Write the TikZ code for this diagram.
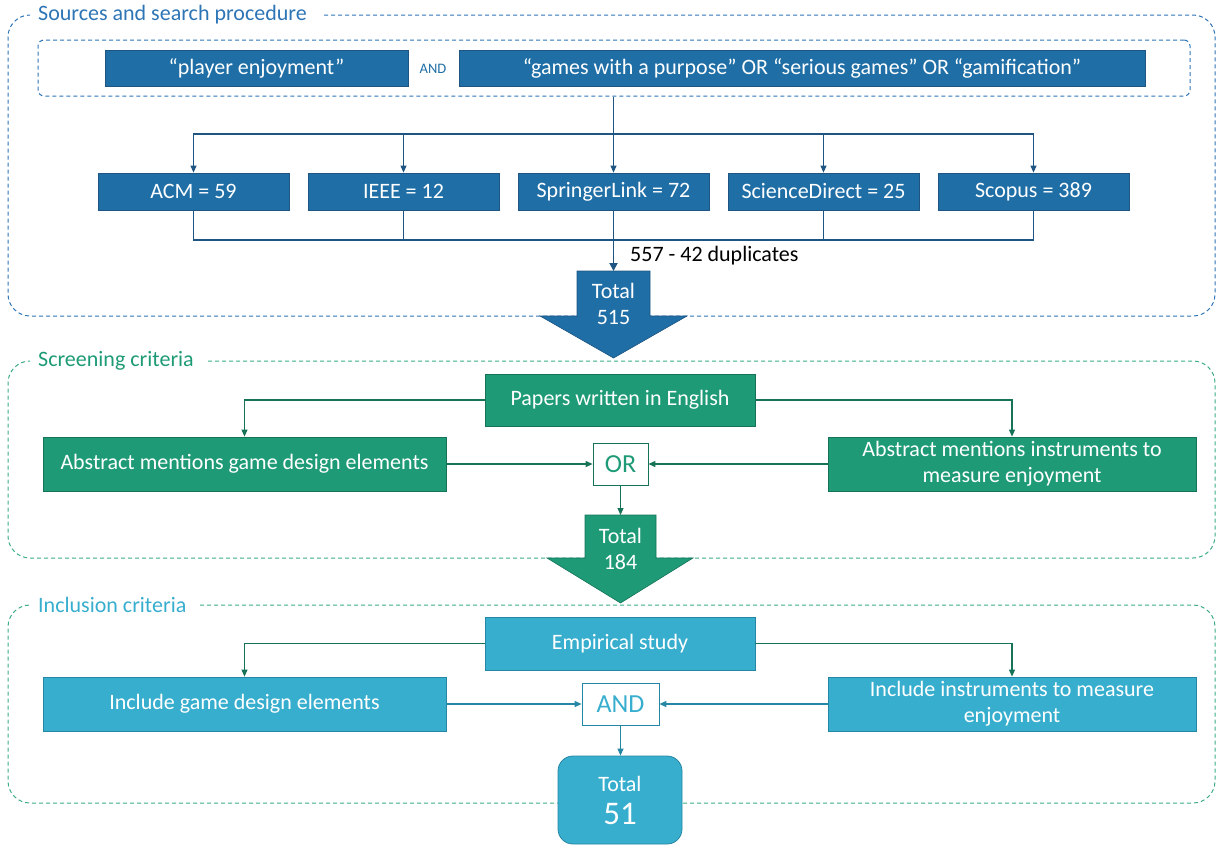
\documentclass[tikz,border=0pt]{standalone}
\usepackage{fontspec}
\setmainfont{Carlito}
\usetikzlibrary{arrows.meta}
\definecolor{bl}{RGB}{31,110,166}
\definecolor{bldk}{RGB}{30,85,130}
\definecolor{blfr}{RGB}{46,117,182}
\definecolor{gr}{RGB}{30,155,118}
\definecolor{grdk}{RGB}{22,115,88}
\definecolor{grfr}{RGB}{60,172,135}
\definecolor{lb}{RGB}{55,174,206}
\definecolor{lbdk}{RGB}{38,135,165}
\tikzset{
  txt/.style={font=\fontsize{22}{26}\selectfont},
  bbox/.style={txt, fill=bl, draw=bldk, line width=0.8pt, text=white, inner sep=0pt},
  gbox/.style={txt, fill=gr, draw=grdk, line width=0.8pt, text=white, inner sep=0pt, align=center},
  lbox/.style={txt, fill=lb, draw=lbdk, line width=0.8pt, text=white, inner sep=0pt, align=center},
  opbox/.style={font=\fontsize{26}{30}\selectfont, fill=white, line width=0.8pt, inner sep=0pt, minimum height=42},
  tip/.style={-{Triangle[length=7pt,width=6pt]}},
  bline/.style={draw=bldk, line width=1.1pt},
  gline/.style={draw=grdk, line width=1.1pt},
  lline/.style={draw=lbdk, line width=1.1pt},
  frame/.style={dashed, dash pattern=on 4pt off 3pt, line width=1pt, rounded corners=22pt},
  ftitle/.style={anchor=west, font=\fontsize{22}{26}\selectfont, inner sep=0pt},
}
\begin{document}
\begin{tikzpicture}[x=1pt, y=-1pt]
\useasboundingbox (0,0) rectangle (1217,846);

% ---------- frames ----------
\draw[frame, draw=blfr] (324,15) -- (1215,15) -- (1215,316) -- (8,316) -- (8,15) -- (30,15);
\node[ftitle, text=blfr] (title1) at (38,15) {Sources and search procedure};
\draw[frame, draw=grfr] (208,361) -- (1215,361) -- (1215,558) -- (8,558) -- (8,361) -- (30,361);
\node[ftitle, text=gr] (title2) at (38,361) {Screening criteria};
\draw[frame, draw=grfr] (200,605) -- (1215,605) -- (1215,803) -- (8,803) -- (8,605) -- (30,605);
\node[ftitle, text=lb] (title3) at (38,605) {Inclusion criteria};

% ---------- section 1 ----------
\node[draw=blfr, dashed, dash pattern=on 4pt off 3pt, line width=1pt, rounded corners=6pt,
      minimum width=1152, minimum height=56, inner sep=0pt] (query) at (614,68) {};
\node[bbox, minimum width=303, minimum height=36] (pe) at (256.5,68) {“player enjoyment”};
\node[font=\fontsize{14.5}{17}\selectfont, text=bl, inner sep=0pt] (and1) at (433,69) {AND};
\node[bbox, minimum width=686, minimum height=36] (gw) at (802,68) {“games with a purpose” OR “serious games” OR “gamification”};

\node[bbox, minimum width=191, minimum height=37] (acm) at (193.5,191.5) {ACM = 59};
\node[bbox, minimum width=191, minimum height=37] (ieee) at (403.5,191.5) {IEEE = 12};
\node[bbox, minimum width=191, minimum height=37] (spr) at (613.5,191.5) {SpringerLink = 72};
\node[bbox, minimum width=191, minimum height=37] (sd) at (823.5,191.5) {ScienceDirect = 25};
\node[bbox, minimum width=191, minimum height=37] (sco) at (1033.5,191.5) {Scopus = 389};

\coordinate (split) at (613.5,134);
\coordinate (join) at (613.5,240);
\coordinate (t1top) at (613.5,271);
\draw[bline] (query.south -| split) -- (split);
\draw[bline, tip] (split) -| (acm.north);
\draw[bline, tip] (split) -| (ieee.north);
\draw[bline, tip] (split) -- (spr.north);
\draw[bline, tip] (split) -| (sd.north);
\draw[bline, tip] (split) -| (sco.north);
\draw[bline] (acm.south) |- (join);
\draw[bline] (ieee.south) |- (join);
\draw[bline] (spr.south) -- (join);
\draw[bline] (sd.south) |- (join);
\draw[bline] (sco.south) |- (join);

\fill[bl, draw=bldk, line width=0.6pt] (577,271) -- (650,271) -- (650,316) -- (687,316) -- (613.5,358) -- (540,316) -- (577,316) -- cycle;
\node[txt, text=white, align=center, inner sep=0pt] (tot1) at (613.5,304) {Total\\515};
\draw[draw=bldk, line width=1.8pt, -{Triangle[length=8pt,width=8pt]}] (join) -- (t1top);
\node[txt, anchor=west, inner sep=0pt] (dup) at (630,256) {557 - 42 duplicates};

% ---------- section 2 ----------
\node[gbox, minimum width=270, minimum height=52] (eng) at (620,400) {Papers written in English};
\node[gbox, minimum width=403, minimum height=54] (agd) at (244.5,464) {Abstract mentions game design elements};
\node[gbox, minimum width=368, minimum height=54] (ain) at (1012,464) {Abstract mentions instruments to\\measure enjoyment};
\node[opbox, draw=grdk, text=gr, minimum width=55] (orb) at (620.5,464) {OR};
\coordinate (t2top) at (620.5,515);

\draw[gline, tip] (eng.west) -| (agd.north);
\draw[gline, tip] (eng.east) -| (ain.north);
\draw[gline, tip] (agd.east) -- (orb.west);
\draw[gline, tip] (ain.west) -- (orb.east);

\fill[gr, draw=grdk, line width=0.6pt] (585,515) -- (656,515) -- (656,558) -- (693,558) -- (620.5,603) -- (547,558) -- (585,558) -- cycle;
\node[txt, text=white, align=center, inner sep=0pt] (tot2) at (620.5,549) {Total\\184};
\draw[gline, tip] (orb.south) -- (t2top);

% ---------- section 3 ----------
\node[lbox, minimum width=270, minimum height=53] (emp) at (620,643.5) {Empirical study};
\node[lbox, minimum width=403, minimum height=54] (igd) at (244.5,704) {Include game design elements};
\node[lbox, minimum width=368, minimum height=54] (iin) at (1012,704) {Include instruments to measure\\enjoyment};
\node[opbox, draw=lbdk, text=lb, minimum width=77] (andb) at (620.5,704) {AND};
\node[lbox, rounded corners=15pt, minimum width=124, minimum height=88, font=\fontsize{22}{33}\selectfont] (tot3) at (620,800) {Total\\{\fontsize{33}{33}\selectfont 51}};

\draw[gline, tip] (emp.west) -| (igd.north);
\draw[gline, tip] (emp.east) -| (iin.north);
\draw[lline, tip] (igd.east) -- (andb.west);
\draw[lline, tip] (iin.west) -- (andb.east);
\draw[lline, tip] (andb.south) -- (tot3.north -| andb.south);
\end{tikzpicture}
\end{document}
